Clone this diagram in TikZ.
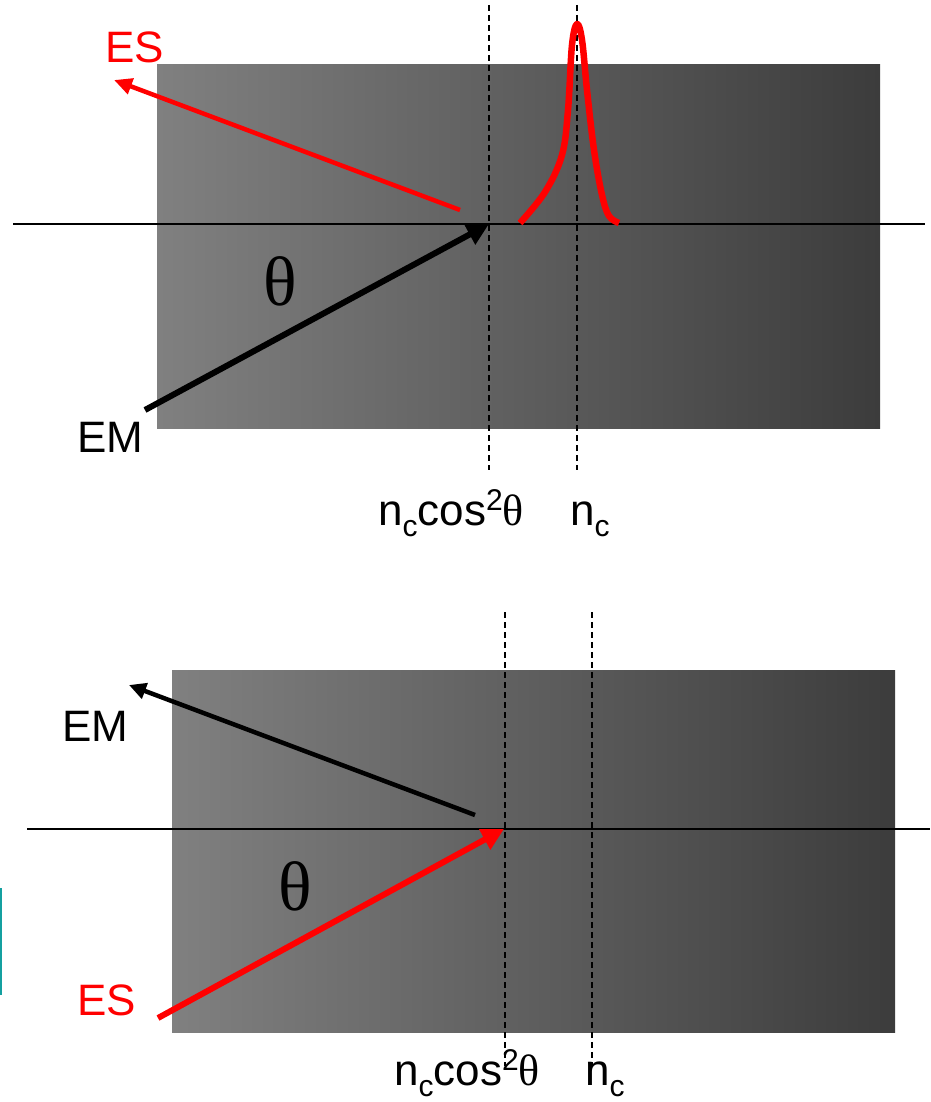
\documentclass[tikz,border=0pt]{standalone}
\usepackage{fontspec}
\setmainfont{Liberation Sans}
\newfontfamily\serifth{Liberation Serif}
\usetikzlibrary{arrows.meta}
\definecolor{gleft}{RGB}{128,128,128}
\definecolor{gright}{RGB}{60,60,60}
\definecolor{myred}{RGB}{255,0,0}
\definecolor{myteal}{RGB}{20,160,160}
\newcommand{\lbl}{\fontsize{44}{44}\selectfont}
\newcommand{\sml}{\fontsize{30}{30}\selectfont}
\newcommand{\thbig}{\serifth\fontsize{70}{70}\selectfont}
\newcommand{\ncos}{n\raisebox{-0.25em}{\sml c}cos\raisebox{0.32em}{\sml 2}{\serifth θ}}
\newcommand{\nc}{n\raisebox{-0.25em}{\sml c}}
\tikzset{
  x=1pt, y=-1pt,
  slab/.style={left color=gleft, right color=gright, draw=none},
  axis/.style={line width=1.4pt, black},
  dline/.style={line width=1.4pt, black, dash pattern=on 6pt off 4pt},
  lab/.style={inner sep=0pt, anchor=base west, font=\lbl},
  thlab/.style={inner sep=0pt, anchor=base west, font=\thbig},
}
\begin{document}
\begin{tikzpicture}
\useasboundingbox (0,0) rectangle (930,1102);
% ---------- top panel ----------
\shade[slab] (157,65) rectangle (880,428);
\coordinate (hl1) at (13,224);
\coordinate (hr1) at (925,224);
\draw[axis] (hl1) -- (hr1);
\coordinate (d1t) at (489,5);
\coordinate (d1b) at (489,470);
\coordinate (d2t) at (577,5);
\coordinate (d2b) at (577,470);
\draw[dline] (d1t) -- (d1b);
\draw[dline] (d2t) -- (d2b);
\coordinate (es1s) at (460,210);
\coordinate (es1e) at (114,80);
\draw[myred, line width=4.5pt, -{Triangle[length=18pt,width=16pt]}] (es1s) -- (es1e);
\coordinate (em1s) at (145,410);
\coordinate (em1e) at (489,224);
\draw[black, line width=6pt, -{Triangle[length=22pt,width=22pt]}] (em1s) -- (em1e);
\draw[myred, line width=6.5pt, line join=round]
  plot[smooth, tension=0.6] coordinates {(520,223) (545,192) (562,155) (568,110) (572,45) (577,24) (582,40) (587,90) (594,150) (602,195) (609,216) (619,223)};
\node[lab, myred] (es1) at (105,63) {ES};
\node[lab] (em1) at (77,452) {EM};
\node[thlab] (th1) at (263,305) {θ};
\node[lab] (l1a) at (378,525) {\ncos};
\node[lab] (l1b) at (570,525) {\nc};
% ---------- bottom panel ----------
\shade[slab] (172,670) rectangle (895,1032);
\coordinate (hl2) at (27,829);
\coordinate (hr2) at (930,829);
\draw[axis] (hl2) -- (hr2);
\coordinate (d3t) at (505,612);
\coordinate (d3b) at (505,1066);
\coordinate (d4t) at (592,612);
\coordinate (d4b) at (592,1066);
\draw[dline] (d3t) -- (d3b);
\draw[dline] (d4t) -- (d4b);
\coordinate (em2s) at (475,815);
\coordinate (em2e) at (129,685);
\draw[black, line width=4.5pt, -{Triangle[length=17pt,width=16pt]}] (em2s) -- (em2e);
\coordinate (es2s) at (158,1018);
\coordinate (es2e) at (504,829);
\draw[myred, line width=6pt, -{Triangle[length=22pt,width=22pt]}] (es2s) -- (es2e);
\node[lab] (em2) at (62,741) {EM};
\node[lab, myred] (es2) at (77,1015) {ES};
\node[thlab] (th2) at (278,910) {θ};
\node[lab] (l2a) at (394,1085) {\ncos};
\node[lab] (l2b) at (585,1085) {\nc};
% teal mark
\coordinate (tt) at (1,888);
\coordinate (tb) at (1,995);
\draw[myteal, line width=2pt] (tt) -- (tb);
\end{tikzpicture}
\end{document}
